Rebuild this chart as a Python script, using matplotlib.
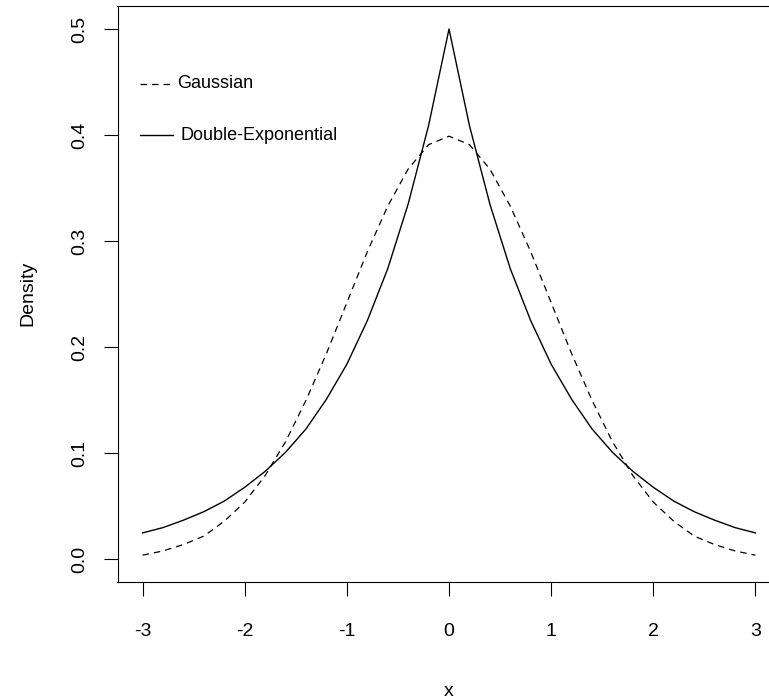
import matplotlib
matplotlib.use("Agg")
import matplotlib.pyplot as plt

plt.rcParams['font.family'] = ['Liberation Sans', 'DejaVu Sans']
plt.rcParams['axes.unicode_minus'] = False
plt.rcParams['lines.scale_dashes'] = False

# values (density curves)
x_vals = [-3.0, -2.8, -2.6, -2.4, -2.2, -2.0, -1.8, -1.6, -1.4, -1.2, -1.0,
          -0.8, -0.6, -0.4, -0.2, 0.0, 0.2, 0.4, 0.6, 0.8, 1.0, 1.2, 1.4,
          1.6, 1.8, 2.0, 2.2, 2.4, 2.6, 2.8, 3.0]
gaussian = [0.004, 0.008, 0.014, 0.022, 0.036, 0.054, 0.079, 0.111, 0.150,
            0.194, 0.242, 0.290, 0.333, 0.368, 0.391, 0.399, 0.391, 0.368,
            0.333, 0.290, 0.242, 0.194, 0.150, 0.111, 0.079, 0.054, 0.036,
            0.022, 0.014, 0.008, 0.004]
double_exp = [0.025, 0.030, 0.037, 0.045, 0.055, 0.068, 0.083, 0.101, 0.123,
              0.151, 0.184, 0.225, 0.274, 0.335, 0.409, 0.500, 0.409, 0.335,
              0.274, 0.225, 0.184, 0.151, 0.123, 0.101, 0.083, 0.068, 0.055,
              0.045, 0.037, 0.030, 0.025]
x_ticks = [-3, -2, -1, 0, 1, 2, 3]
y_ticks = [0.0, 0.1, 0.2, 0.3, 0.4, 0.5]
y_tick_labels = ["0.0", "0.1", "0.2", "0.3", "0.4", "0.5"]
legend_labels = ["Gaussian", "Double-Exponential"]

W, H = 769, 699
fig = plt.figure(figsize=(W / 100, H / 100), dpi=100)
L, R, T, B = 117.5, 779.5, 6.0, 581.5
ax = fig.add_axes([L / W, (H - B) / H, (R - L) / W, (B - T) / H])

dash = (0, (4.7, 3.6))
ax.plot(x_vals, gaussian, color='black', lw=0.9, linestyle=dash)
ax.plot(x_vals, double_exp, color='black', lw=1.0)

ax.set_xlim(-3.245, 3.235)
ax.set_ylim(-0.0208, 0.5217)
ax.set_xticks(x_ticks)
ax.set_xticklabels([str(v) for v in x_ticks])
ax.set_yticks(y_ticks)
ax.set_yticklabels(y_tick_labels, rotation=90, va='center')

for s in ax.spines.values():
    s.set_linewidth(0.8)
ax.tick_params(axis='both', direction='out', length=10, width=0.8,
               labelsize=14, colors='black')
ax.tick_params(axis='x', pad=20)
ax.tick_params(axis='y', pad=11)

ax.set_xlabel("x", fontsize=14, labelpad=31)
ax.set_ylabel("Density", fontsize=14, labelpad=25)


def px2ax(px, py):
    return ((px - L) / (R - L), (B - py) / (B - T))

# legend (manual, as in R's legend without box)
styles = [dash, '-']
lws = [0.9, 1.0]
rows_y = [84, 135]
text_x = [177, 180]
for lab, st, lw, yy, tx in zip(legend_labels, styles, lws, rows_y, text_x):
    x0, y0 = px2ax(140, yy)
    x1, _ = px2ax(173, yy)
    ax.plot([x0, x1], [y0, y0], transform=ax.transAxes, color='black',
            lw=lw, linestyle=st, clip_on=False)
    xt, _ = px2ax(tx, yy)
    ax.text(xt, y0, lab, transform=ax.transAxes, fontsize=13,
            va='center', ha='left')

fig.savefig("out.png", dpi=100)
